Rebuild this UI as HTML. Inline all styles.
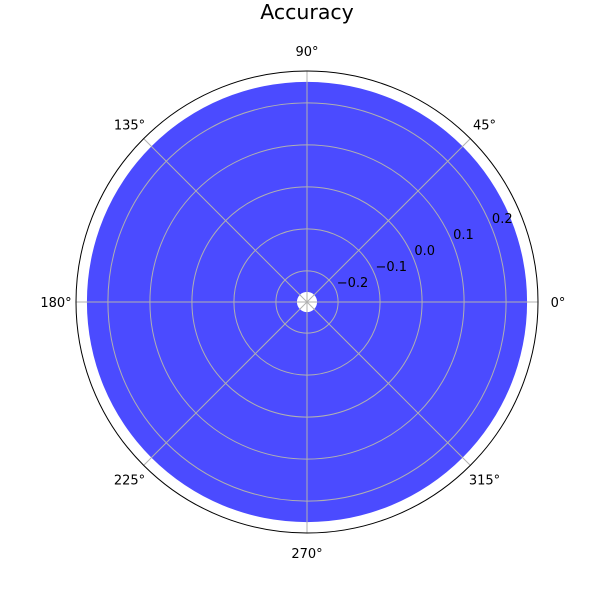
<!DOCTYPE html>
<html><head><meta charset="utf-8"><style>body{margin:0;background:#fff}svg{display:block;font-family:"DejaVu Sans","Liberation Sans",sans-serif}</style></head>
<body>
<svg id="chart" width="600" height="600" viewBox="0 0 600 600">
<text x="307" y="19" font-size="20.5" text-anchor="middle">Accuracy</text>
<g id="plot"></g>
</svg>
<script>
const barTops = [0.25];
const barBottoms = [-0.25];
const radialTicks = [-0.2, -0.1, 0.0, 0.1, 0.2];
const radialTickLabels = ["\u22120.2", "\u22120.1", "0.0", "0.1", "0.2"];
const angleTicks = [0, 45, 90, 135, 180, 225, 270, 315];
const rMin = -0.274, rMax = 0.276;
const cx = 307, cy = 302, R = 231;
const rs = v => (v - rMin) / (rMax - rMin) * R;
const NS = "http://www.w3.org/2000/svg";
const g = document.getElementById('plot');
function mk(t, a){const e=document.createElementNS(NS,t);for(const k in a)e.setAttribute(k,a[k]);g.appendChild(e);return e;}
barTops.forEach((v,i)=>{
  const ro = rs(v), ri = rs(barBottoms[i]);
  const p = mk('path',{d:`M${cx+ro},${cy} A${ro},${ro} 0 1 0 ${cx-ro},${cy} A${ro},${ro} 0 1 0 ${cx+ro},${cy} Z M${cx+ri},${cy} A${ri},${ri} 0 1 1 ${cx-ri},${cy} A${ri},${ri} 0 1 1 ${cx+ri},${cy} Z`,fill:'#4b4bff','fill-rule':'evenodd'});
  
  
});
radialTicks.forEach((v,i)=>{
  const c = mk('circle',{cx,cy,r:rs(v),fill:'none',stroke:'#b0b0b0','stroke-width':1});
  
  
  const a = 22.5*Math.PI/180, r = rs(v);
  const t = mk('text',{x:cx+r*Math.cos(a)+1,y:cy-r*Math.sin(a)-3,'font-size':13});
  t.textContent = radialTickLabels[i];
  
  
});
angleTicks.forEach(d=>{
  const a = d*Math.PI/180;
  const l = mk('line',{x1:cx,y1:cy,x2:cx+R*Math.cos(a),y2:cy-R*Math.sin(a),stroke:'#b0b0b0','stroke-width':1});
  
  
  const t = mk('text',{x:cx+251*Math.cos(a),y:cy-251*Math.sin(a)+5,'font-size':13,'text-anchor':'middle'});
  t.textContent = d + '\u00b0';
  
  
});
const o = mk('circle',{cx,cy,r:R,fill:'none',stroke:'#000','stroke-width':1});


</script>
</body></html>
